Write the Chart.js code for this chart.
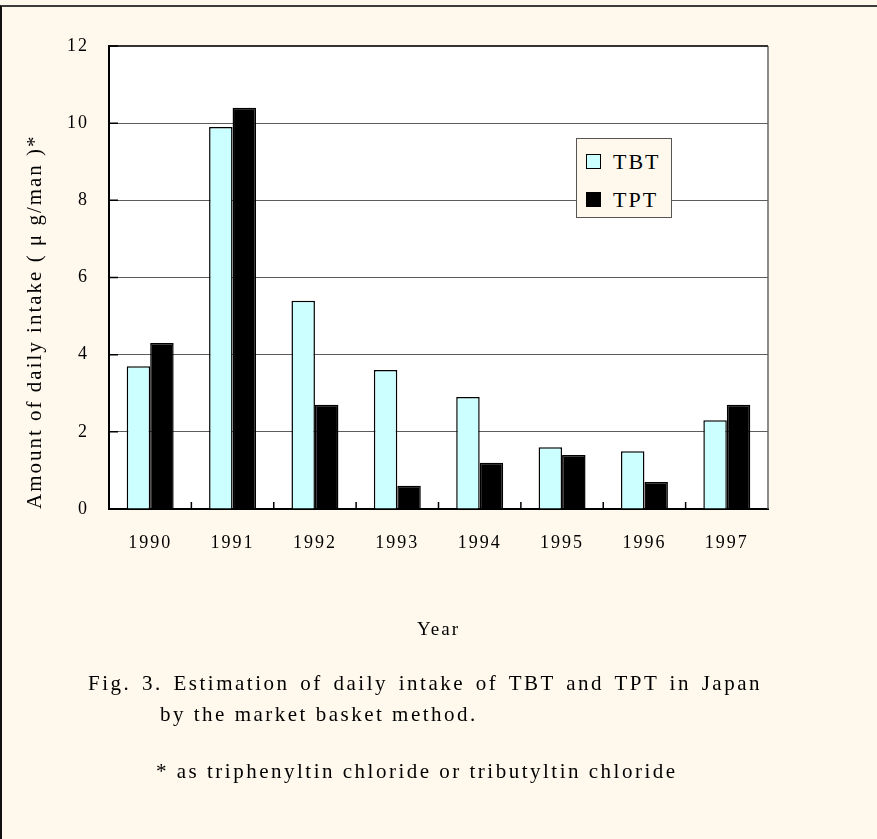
<!DOCTYPE html>
<html>
<head>
<meta charset="utf-8">
<script src="https://cdn.jsdelivr.net/npm/chart.js@4.4.1/dist/chart.umd.min.js"></script>
<style>
  body { margin: 0; background: #FFF9ED; font-family: "Liberation Serif", "Times New Roman", serif; }
  #wrap { position: relative; width: 877px; height: 839px; overflow: hidden; }
  #frame { position: absolute; left: 0; top: 5px; width: 875px; height: 834px;
           border-top: 2px solid #3c3c3c; border-left: 2px solid #111; pointer-events: none; }
  canvas { position: absolute; left: 0; top: 0; }
  .txt { position: absolute; white-space: nowrap; color: #000; letter-spacing: 2.5px; font-size: 21px; line-height: 26px; }
  #legend { position: absolute; left: 576px; top: 138px; width: 94px; height: 78px;
            border: 1px solid #555; background: #FFF9ED; }
  .row { position: absolute; left: 9px; height: 22px; font-size: 22px; line-height: 22px; letter-spacing: 2px; }
  .sw { position: absolute; left: 0; top: 3px; width: 13px; height: 13px; border: 1px solid #000; }
  .lb { position: absolute; left: 27px; top: 0; }
</style>
</head>
<body>
<div id="wrap">
  <canvas id="barChart" width="877" height="839"></canvas>
  <div id="legend"></div>
  <div class="txt" style="left:88px; top:670px; word-spacing:3px;">Fig. 3. Estimation of daily intake of TBT and TPT in Japan</div>
  <div class="txt" style="left:160px; top:701px;">by the market basket method.</div>
  <div class="txt" style="left:156px; top:758px;">* as triphenyltin chloride or tributyltin chloride</div>
  <div id="frame"></div>
</div>
<script>
const years = ["1990", "1991", "1992", "1993", "1994", "1995", "1996", "1997"];
const tbt = [3.7, 9.9, 5.4, 3.6, 2.9, 1.6, 1.5, 2.3];
const tpt = [4.3, 10.4, 2.7, 0.6, 1.2, 1.4, 0.7, 2.7];
const yTicks = [0, 2, 4, 6, 8, 10, 12];

Chart.defaults.font.family = '"Liberation Serif", "Times New Roman", serif';
Chart.defaults.color = "#000";

// letter spacing like the scanned figure, plus plot frame and inward ticks
const paperLook = {
    id: "paperLook",
    beforeUpdate(chart) { chart.ctx.letterSpacing = "2px"; },
    beforeDraw(chart) {
        const { ctx, chartArea: a } = chart;
        ctx.letterSpacing = "2px";
        ctx.save();
        ctx.fillStyle = "#fff";
        ctx.fillRect(a.left, a.top, a.right - a.left, a.bottom - a.top);
        ctx.restore();
    },
    afterDraw(chart) {
        const { ctx, chartArea: a, scales: { x, y } } = chart;
        ctx.save();
        ctx.lineWidth = 1.5;
        ctx.strokeStyle = "#666";
        ctx.beginPath();
        ctx.moveTo(a.right, a.top);
        ctx.lineTo(a.right, a.bottom);
        ctx.stroke();
        ctx.strokeStyle = "#333";
        ctx.lineWidth = 2;
        ctx.beginPath();
        ctx.moveTo(a.left, a.top);
        ctx.lineTo(a.right, a.top);
        ctx.stroke();
        ctx.strokeStyle = "#000";
        ctx.lineWidth = 1.5;
        ctx.beginPath();
        y.ticks.forEach(t => {
            const py = y.getPixelForValue(t.value);
            ctx.moveTo(a.left, py);
            ctx.lineTo(a.left + 9, py);
        });
        for (let i = 1; i < years.length; i++) {
            const px = (x.getPixelForValue(i - 1) + x.getPixelForValue(i)) / 2;
            ctx.moveTo(px, a.bottom);
            ctx.lineTo(px, a.bottom - 7);
        }
        ctx.stroke();
        ctx.restore();
    }
};

const chart = new Chart(document.getElementById("barChart"), {
    type: "bar",
    data: {
        labels: years,
        datasets: [
            { label: "TBT", data: tbt, backgroundColor: "#CCFFFF", borderColor: "#000", borderWidth: 1.5 },
            { label: "TPT", data: tpt, backgroundColor: "#000", borderColor: "#000", borderWidth: 1.5 }
        ]
    },
    options: {
        responsive: false,
        animation: false,
        layout: { padding: { top: 46, right: 109, left: 0, bottom: 189 } },
        datasets: { bar: { categoryPercentage: 0.57, barPercentage: 1.0 } },
        plugins: { legend: { display: false }, tooltip: { enabled: false } },
        scales: {
            x: {
                grid: { display: false },
                border: { display: true, color: "#000", width: 2 },
                ticks: { font: { size: 18 }, padding: 15 },
                title: { display: true, text: "Year", font: { size: 19 }, padding: { bottom: 9 } },
                afterFit(s) { s.height = 141; }
            },
            y: {
                min: 0,
                max: 12,
                grid: { color: "#5c5c5c", lineWidth: 1, drawTicks: false },
                border: { display: true, color: "#000", width: 2 },
                ticks: {
                    font: { size: 18 },
                    padding: 20,
                    stepSize: 2,
                    callback: (v) => yTicks.includes(v) ? String(v) : ""
                },
                title: {
                    display: true,
                    text: "Amount of daily intake ( \u03bc g/man )*",
                    font: { size: 21 },
                    align: "start",
                    padding: { top: 23 }
                },
                afterFit(s) { s.width = 109; }
            }
        }
    },
    plugins: [paperLook]
});

// legend box built from the datasets
const legend = document.getElementById("legend");
chart.data.datasets.forEach((ds, i) => {
    const row = document.createElement("div");
    row.className = "row";
    row.style.top = (12 + i * 38) + "px";
    row.innerHTML = '<span class="sw" style="background:' + ds.backgroundColor + '"></span><span class="lb">' + ds.label + "</span>";
    legend.appendChild(row);
});
</script>
</body>
</html>
